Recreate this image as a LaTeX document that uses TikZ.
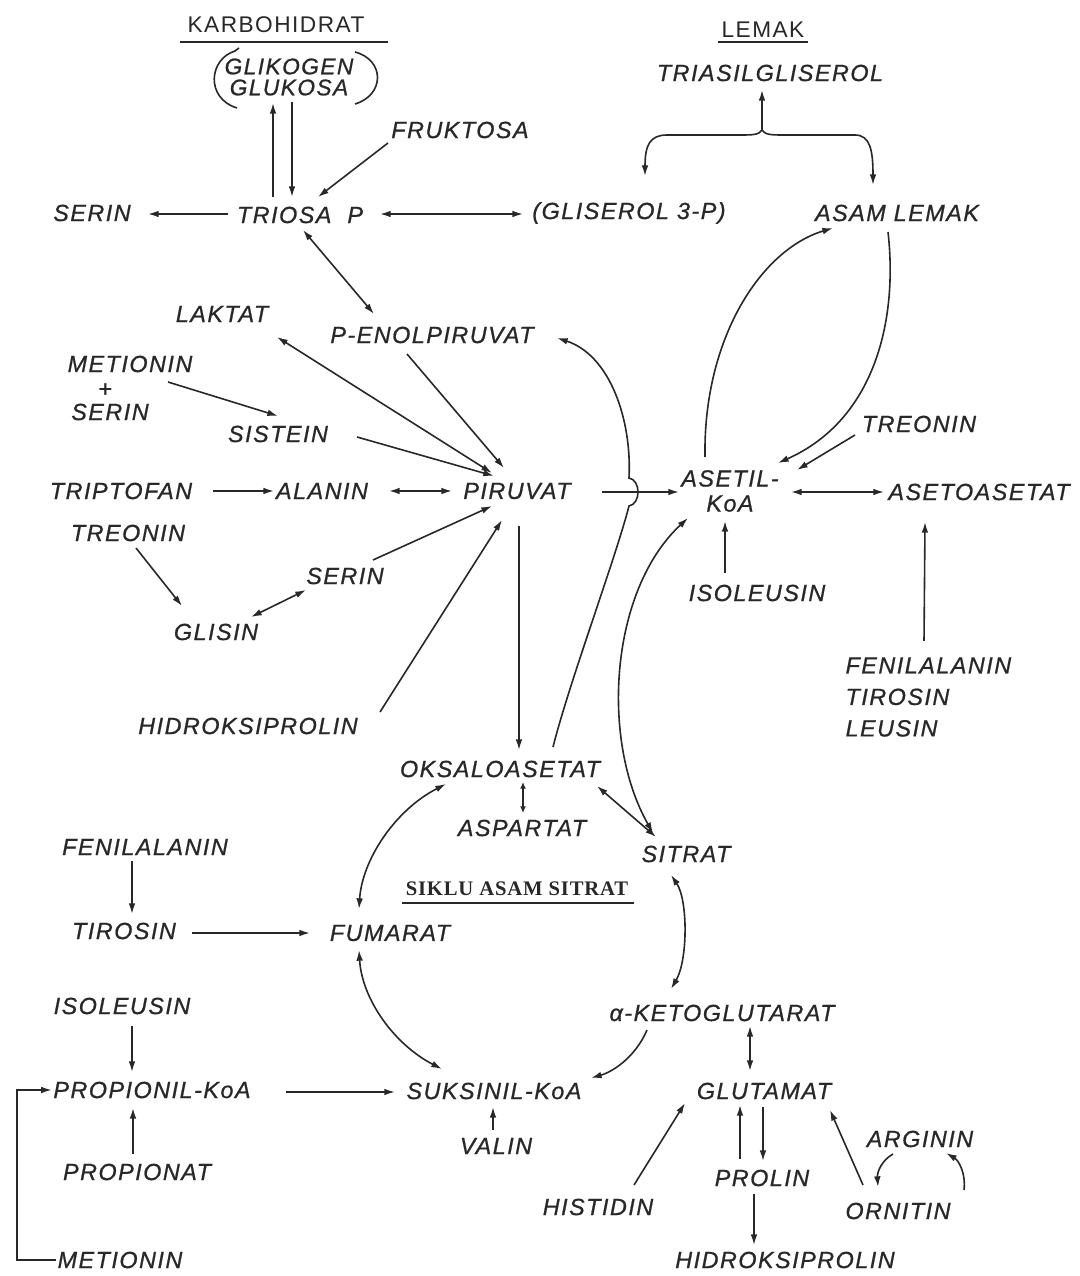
\documentclass[tikz,border=0pt]{standalone}
\usepackage{fontspec}
\setmainfont{Liberation Sans}
\newfontfamily\lab[LetterSpace=6.5,FakeBold=0.8]{Liberation Sans}
\newfontfamily\labu[LetterSpace=6.5]{Liberation Sans}
\newfontfamily\serifb[LetterSpace=4]{Liberation Serif}
\usetikzlibrary{calc,arrows.meta}
\definecolor{ink}{RGB}{40,40,40}
\begin{document}
\begin{tikzpicture}[x=0.75pt,y=-0.75pt,
  lb/.style={font=\lab\fontsize{17.5}{19}\selectfont\itshape, inner sep=1pt, text=ink},
  hd/.style={font=\labu\fontsize{17}{19}\selectfont, inner sep=1pt, text=ink},
  ln/.style={draw=ink, line width=1.2pt},
  ar/.style={ln, -{Latex[length=8pt,width=5pt]}},
  dar/.style={ln, {Latex[length=8pt,width=5pt]}-{Latex[length=8pt,width=5pt]}},
  sdar/.style={ln, {Latex[length=5pt,width=4.5pt]}-{Latex[length=5pt,width=4.5pt]}}]
\fill[white] (0,0) rectangle (1079,1276);
\useasboundingbox (0,0) rectangle (1079,1276);

% ---------- nodes ----------
\node[hd] (karbo) at (276,25) {KARBOHIDRAT};
\node[lb, align=center, font=\lab\fontsize{17}{15.75}\selectfont\itshape] (glik) at (289,77) {GLIKOGEN\\GLUKOSA};
\node[lb] (fruk) at (460,130) {FRUKTOSA};
\node[lb] (triosa) at (300,215) {TRIOSA~~P};
\node[lb] (serinA) at (92,213) {SERIN};
\node[lb] (glis) at (629,213) {(GLISEROL 3-P)};
\node[hd] (lemak) at (763,30) {LEMAK};
\node[lb] (tag) at (770,73) {TRIASILGLISEROL};
\node[lb] (asam) at (897,213) {ASAM LEMAK};
\node[lb] (laktat) at (222,314) {LAKTAT};
\node[lb] (pep) at (432,335) {P-ENOLPIRUVAT};
\node[lb] (met1) at (130,364) {METIONIN};
\node[lb] (plus) at (105,390) {+};
\node[lb] (serinB) at (110,412) {SERIN};
\node[lb] (sist) at (278,434) {SISTEIN};
\node[lb] (treoA) at (919,424) {TREONIN};
\node[lb] (trip) at (121,491) {TRIPTOFAN};
\node[lb] (alanin) at (322,491) {ALANIN};
\node[lb] (piruvat) at (517,491) {PIRUVAT};
\node[lb, align=center, font=\lab\fontsize{17.5}{18.75}\selectfont\itshape] (asetil) at (730,491) {ASETIL-\\KoA};
\node[lb] (asetoas) at (979,492) {ASETOASETAT};
\node[lb] (treoB) at (128,533) {TREONIN};
\node[lb] (serinC) at (345,576) {SERIN};
\node[lb] (glisin) at (216,632) {GLISIN};
\node[lb] (isoA) at (757,593) {ISOLEUSIN};
\node[lb, align=left, anchor=west, font=\lab\fontsize{17.5}{23.6}\selectfont\itshape] (fenA) at (844,697) {FENILALANIN\\TIROSIN\\LEUSIN};
\node[lb] (hidrokA) at (248,726) {HIDROKSIPROLIN};
\node[lb] (oksalo) at (500,769) {OKSALOASETAT};
\node[lb] (asp) at (522,828) {ASPARTAT};
\node[lb] (sitrat) at (686,854) {SITRAT};
\node[inner sep=1pt, text=ink, font=\serifb\fontsize{15.5}{17}\selectfont\bfseries] (siklu) at (517,889) {SIKLU ASAM SITRAT};
\node[lb] (fenB) at (145,847) {FENILALANIN};
\node[lb] (tiro) at (124,931) {TIROSIN};
\node[lb] (fum) at (390,933) {FUMARAT};
\node[lb] (isoB) at (122,1006) {ISOLEUSIN};
\node[lb] (akg) at (722,1013) {α-KETOGLUTARAT};
\node[lb] (prop) at (152,1090) {PROPIONIL-KoA};
\node[lb] (suks) at (494,1091) {SUKSINIL-KoA};
\node[lb] (glut) at (764,1091) {GLUTAMAT};
\node[lb] (valin) at (496,1146) {VALIN};
\node[lb] (arg) at (920,1139) {ARGININ};
\node[lb] (propionat) at (137,1172) {PROPIONAT};
\node[lb] (prolin) at (762,1178) {PROLIN};
\node[lb] (hist) at (598,1207) {HISTIDIN};
\node[lb] (orn) at (898,1211) {ORNITIN};
\node[lb] (metB) at (120,1260) {METIONIN};
\node[lb] (hidrokB) at (785,1260) {HIDROKSIPROLIN};

% ---------- underlines and brackets ----------
\draw[ln] ($(karbo)+(-96,17)$) -- ($(karbo)+(112,17)$);
\draw[ln] ($(lemak)+(-45,12)$) -- ($(lemak)+(45,12)$);
\draw[ln] ($(siklu)+(-115,14)$) -- ($(siklu)+(117,14)$);
\draw[ln] ($(glik)+(-50,-29)$) -- ($(glik)+(-54,-26)$) .. controls ($(glik)+(-80,-18)$) and ($(glik)+(-84,21)$) .. ($(glik)+(-52,31)$);
\draw[ln] ($(glik)+(66,-25)$) .. controls ($(glik)+(96,-17)$) and ($(glik)+(96,18)$) .. ($(glik)+(66,27)$);

% ---------- carbohydrate ----------
\draw[ar] ($(triosa)+(-27,-18)$) -- ($(glik)+(-16,26)$);
\draw[ar] ($(glik)+(3,25)$) -- ($(triosa)+(-8,-18)$);
\draw[ar] ($(fruk)+(-72,13)$) -- ($(triosa)+(18,-18)$);
\draw[ar] ($(triosa)+(-72,-1)$) -- ($(serinA)+(56,1)$);
\draw[dar] ($(triosa)+(80,-1)$) -- ($(glis)+(-106,1)$);
\draw[dar] ($(triosa)+(3,15)$) -- ($(pep)+(-58,-21)$);

% ---------- lipid ----------
\coordinate (jn) at ($(tag)+(-8,57)$);
\draw[ar] (jn) -- ($(tag)+(-8,17)$);
\draw[ar] (jn) .. controls ($(jn)+(-3,5)$) and ($(jn)+(-10,5)$) .. ($(jn)+(-22,5)$) -- ($(jn)+(-95,5)$) .. controls ($(jn)+(-112,5)$) and ($(jn)+(-117,15)$) .. ($(glis)+(16,-37)$);
\draw[ar] (jn) .. controls ($(jn)+(3,5)$) and ($(jn)+(10,5)$) .. ($(jn)+(22,5)$) -- ($(jn)+(93,5)$) .. controls ($(jn)+(108,5)$) and ($(jn)+(111,20)$) .. ($(asam)+(-24,-28)$);
\draw[ar] ($(asetil)+(-25,-34)$) .. controls (703,340) and (760,250) .. ($(asam)+(-64,15)$);
\draw[ar] ($(asam)+(-9,19)$) .. controls (898,320) and (875,420) .. ($(asetil)+(48,-28)$);
\draw[ar] ($(treoA)+(-64,11)$) -- ($(asetil)+(67,-21)$);

% ---------- pyruvate ----------
\draw[ar] ($(pep)+(-25,19)$) -- ($(piruvat)+(-13,-23)$);
\draw[dar] ($(laktat)+(55,23)$) -- ($(piruvat)+(-25,-18)$);
\draw[ar] ($(met1)+(38,18)$) -- ($(sist)+(0,-18)$);
\draw[ar] ($(sist)+(79,3)$) -- ($(piruvat)+(-23,-15)$);
\draw[ar] ($(trip)+(92,0)$) -- ($(alanin)+(-48,0)$);
\draw[dar] ($(alanin)+(67,0)$) -- ($(piruvat)+(-65,0)$);
\draw[ar] ($(treoB)+(8,15)$) -- ($(glisin)+(-34,-26)$);
\draw[dar] ($(serinC)+(-39,14)$) -- ($(glisin)+(35,-15)$);
\draw[ar] ($(serinC)+(28,-16)$) -- ($(piruvat)+(-25,15)$);
\draw[ar] ($(hidrokA)+(132,-14)$) -- ($(piruvat)+(-15,29)$);
\draw[ar] ($(piruvat)+(2,35)$) -- ($(oksalo)+(19,-19)$);
\draw[ar] ($(piruvat)+(85,1)$) -- ($(asetil)+(-51,1)$);
\draw[ar] ($(oksalo)+(53,-22)$) .. controls (570,680) and (615,560) .. (629,506)
   .. controls (641,504) and (641,480) .. (629,478)
   .. controls (632,420) and (610,355) .. ($(pep)+(125,3)$);
\draw[ar] ($(isoA)+(-32,-20)$) -- ($(asetil)+(-5,30)$);
\draw[ar] ($(fenA.north west)+(80,-15)$) -- ($(asetoas)+(-54,30)$);
\draw[dar] ($(asetil)+(61,1)$) -- ($(asetoas)+(-95,0)$);

% ---------- citric acid cycle ----------
\draw[dar] ($(sitrat)+(-33,-21)$) .. controls (600,740) and (610,590) .. ($(asetil)+(-42,27)$);
\draw[dar] ($(oksalo)+(97,17)$) -- ($(sitrat)+(-30,-17)$);
\draw[sdar] ($(oksalo)+(23,13)$) -- ($(asp)+(1,-15)$);
\draw[dar] ($(oksalo)+(-54,15)$) .. controls (395,810) and (362,860) .. ($(fum)+(-31,-24)$);
\draw[dar] ($(fum)+(-31,17)$) .. controls (362,1000) and (395,1045) .. ($(suks)+(-52,-22)$);
\draw[dar] ($(sitrat)+(-15,21)$) .. controls (688,900) and (688,960) .. ($(akg)+(-51,-24)$);
\draw[ar] ($(akg)+(-75,17)$) .. controls (635,1058) and (612,1072) .. ($(suks)+(97,-13)$);

% ---------- left side ----------
\draw[ar] ($(fenB)+(-13,14)$) -- ($(tiro)+(8,-17)$);
\draw[ar] ($(tiro)+(68,2)$) -- ($(fum)+(-80,0)$);
\draw[ar] ($(isoB)+(10,20)$) -- ($(prop)+(-20,-18)$);
\draw[ar] ($(propionat)+(-4,-18)$) -- ($(prop)+(-19,18)$);
\draw[ar] ($(prop)+(134,2)$) -- ($(suks)+(-99,1)$);
\draw[ar] ($(valin)+(-3,-16)$) -- ($(suks)+(-1,16)$);
\draw[ar] (metB.west) -- ($(metB.west)+(-39,0)$) |- (prop.west);

% ---------- glutamate ----------
\draw[dar] ($(akg)+(28,13)$) -- ($(glut)+(-14,-20)$);
\draw[ar] ($(glut)+(-1,16)$) -- ($(prolin)+(1,-17)$);
\draw[ar] ($(prolin)+(-22,-19)$) -- ($(glut)+(-24,14)$);
\draw[ar] ($(prolin)+(-8,16)$) -- ($(hidrokB)+(-31,-15)$);
\draw[ar] ($(hist)+(36,-22)$) -- ($(glut)+(-79,12)$);
\draw[ar] ($(orn)+(-35,-26)$) -- ($(glut)+(66,19)$);
\draw[ar] ($(arg)+(-27,15)$) .. controls (882,1160) and (877,1172) .. ($(orn)+(-20,-24)$);
\draw[ar] ($(orn)+(66,-21)$) .. controls (966,1172) and (958,1160) .. ($(arg)+(26,14)$);
\end{tikzpicture}
\end{document}
